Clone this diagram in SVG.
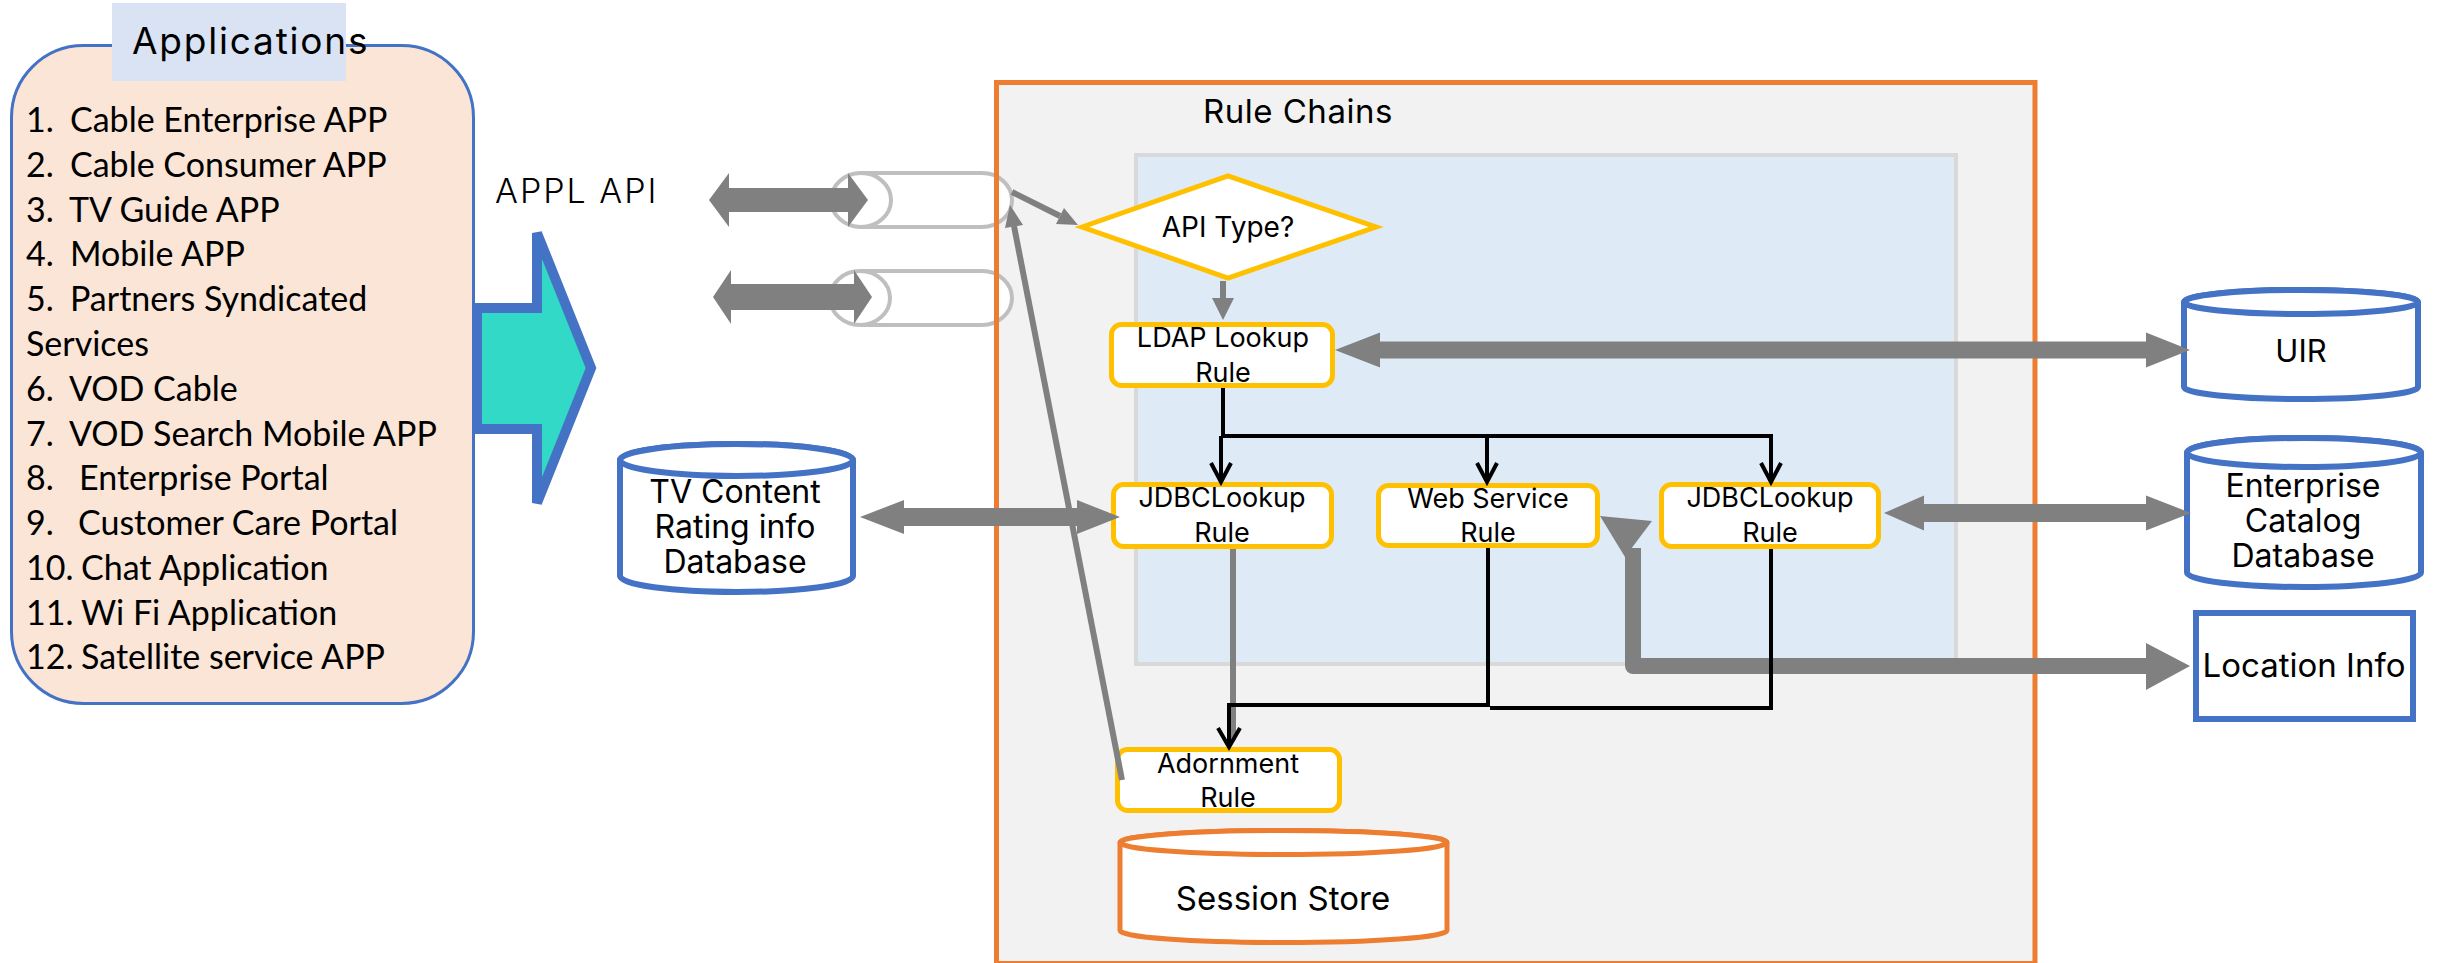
<svg xmlns="http://www.w3.org/2000/svg" width="2446" height="963" viewBox="0 0 2446 963">
  <style>
    .t { font-family: Inter, "Open Sans", "Liberation Sans", sans-serif; fill: #000; }
    .lst { font-family: Lato, "Open Sans", "Liberation Sans", sans-serif; font-size: 34px; fill: #000; }
    .rule { fill: #fff; stroke: #FFC000; stroke-width: 5; }
    .rt { font-size: 27px; text-anchor: middle; }
    .db { fill: #fff; stroke: #4472C4; stroke-width: 6; }
    .pipe { fill: #fff; stroke: #BFBFBF; stroke-width: 4; }
    .fat { fill: #808080; }
    .thin { fill: none; stroke: #808080; stroke-width: 6; }
    .blk { fill: none; stroke: #000; stroke-width: 4; }
  </style>

  <!-- Rule Chains container (fill first; border drawn above the pipes) -->
  <g id="rule-chains">
    <rect x="996.5" y="82.5" width="1038.5" height="881" fill="#F2F2F2"/>
    <text class="t" x="1203" y="123" font-size="33" letter-spacing="0.5">Rule Chains</text>
    <rect x="1136" y="155" width="820" height="509" fill="#DEEBF7" stroke="#D9D9D9" stroke-width="4"/>
  </g>

  <!-- Applications list -->
  <g id="applications">
    <rect x="11.5" y="45.5" width="462" height="658" rx="72" fill="#FBE5D6" stroke="#4472C4" stroke-width="3"/>
    <rect x="112" y="3" width="234" height="78" fill="#DAE3F3"/>
    <text class="t" x="132" y="54" font-size="37" letter-spacing="1.8">Applications</text>
    <g class="lst">
      <text y="132"><tspan x="26">1.</tspan><tspan x="70">Cable Enterprise APP</tspan></text>
      <text y="177"><tspan x="26">2.</tspan><tspan x="70">Cable Consumer APP</tspan></text>
      <text y="222"><tspan x="26">3.</tspan><tspan x="69">TV Guide APP</tspan></text>
      <text y="266"><tspan x="26">4.</tspan><tspan x="70">Mobile APP</tspan></text>
      <text y="311"><tspan x="26">5.</tspan><tspan x="70">Partners Syndicated</tspan></text>
      <text x="26" y="356">Services</text>
      <text y="401"><tspan x="26">6.</tspan><tspan x="69">VOD Cable</tspan></text>
      <text y="446"><tspan x="26">7.</tspan><tspan x="69">VOD Search Mobile APP</tspan></text>
      <text y="490"><tspan x="26">8.</tspan><tspan x="79">Enterprise Portal</tspan></text>
      <text y="535"><tspan x="26">9.</tspan><tspan x="78">Customer Care Portal</tspan></text>
      <text y="580"><tspan x="26">10.</tspan><tspan x="81">Chat Application</tspan></text>
      <text y="625"><tspan x="26">11.</tspan><tspan x="81">Wi Fi Application</tspan></text>
      <text y="669"><tspan x="26">12.</tspan><tspan x="81">Satellite service APP</tspan></text>
    </g>
  </g>

  <!-- Block arrow into the API layer -->
  <g id="app-arrow">
    <path d="M477,308 H537 V233 L591,368 L537,503 V429 H477 Z" fill="#33D9C7" stroke="#4472C4" stroke-width="10"/>
  </g>

  <text id="appl-api" class="t" x="495" y="203" font-size="34" font-weight="300" letter-spacing="2">APPL API</text>

  <!-- API pipes -->
  <g id="pipe-1">
    <path class="pipe" d="M861,173 H982 A30,27 0 0 1 982,227 H861"/>
    <ellipse class="pipe" cx="861" cy="200" rx="30" ry="27"/>
  </g>
  <g id="pipe-2">
    <path class="pipe" d="M860,271 H982 A30,27 0 0 1 982,325 H860"/>
    <ellipse class="pipe" cx="860" cy="298" rx="30" ry="27"/>
  </g>

  <!-- container border sits above the pipes -->
  <rect id="rule-chains-border" x="996.5" y="82.5" width="1038.5" height="881" fill="none" stroke="#ED7D31" stroke-width="5"/>

  <!-- Rule nodes -->
  <g id="api-type">
    <polygon points="1082,227 1228,176 1376,227 1228,278" fill="#fff" stroke="#FFC000" stroke-width="5"/>
    <text class="t" x="1228" y="237" font-size="28" text-anchor="middle">API Type?</text>
  </g>
  <g id="ldap-rule">
    <rect class="rule" x="1111.5" y="324.5" width="221" height="61" rx="10"/>
    <text class="t rt" x="1223" y="347">LDAP Lookup</text>
    <text class="t rt" x="1223" y="382">Rule</text>
  </g>
  <g id="jdbc-rule-1">
    <rect class="rule" x="1113.5" y="484.5" width="218" height="62" rx="10"/>
    <text class="t rt" x="1222" y="507">JDBCLookup</text>
    <text class="t rt" x="1222" y="542">Rule</text>
  </g>
  <g id="web-service-rule">
    <rect class="rule" x="1378.5" y="485.5" width="219" height="60" rx="10"/>
    <text class="t rt" x="1488" y="508">Web Service</text>
    <text class="t rt" x="1488" y="542">Rule</text>
  </g>
  <g id="jdbc-rule-2">
    <rect class="rule" x="1661.5" y="484.5" width="217" height="62" rx="10"/>
    <text class="t rt" x="1770" y="507">JDBCLookup</text>
    <text class="t rt" x="1770" y="542">Rule</text>
  </g>
  <g id="adornment-rule">
    <rect class="rule" x="1117.5" y="749.5" width="222" height="61" rx="10"/>
    <text class="t rt" x="1228" y="773">Adornment</text>
    <text class="t rt" x="1228" y="807">Rule</text>
  </g>

  <!-- Data stores -->
  <g id="session-store">
    <path d="M1120,842.5 A163.5,12 0 0 1 1447,842.5 V930.5 A163.5,12 0 0 1 1120,930.5 Z" fill="#fff" stroke="#ED7D31" stroke-width="5"/>
    <ellipse cx="1283.5" cy="842.5" rx="163.5" ry="12" fill="#fff" stroke="#ED7D31" stroke-width="5"/>
    <text class="t" x="1283" y="910" font-size="33" text-anchor="middle">Session Store</text>
  </g>
  <g id="tv-content-db">
    <path class="db" d="M620,460 A116.5,16 0 0 1 853,460 V576 A116.5,16 0 0 1 620,576 Z"/>
    <ellipse class="db" cx="736.5" cy="460" rx="116.5" ry="16"/>
    <g class="t" font-size="32" text-anchor="middle">
      <text x="735" y="503">TV Content</text>
      <text x="735" y="538">Rating info</text>
      <text x="735" y="573">Database</text>
    </g>
  </g>
  <g id="uir-db">
    <path class="db" d="M2184,302 A117,12 0 0 1 2418,302 V387 A117,12 0 0 1 2184,387 Z"/>
    <ellipse class="db" cx="2301" cy="302" rx="117" ry="12"/>
    <text class="t" x="2301" y="362" font-size="31" text-anchor="middle">UIR</text>
  </g>
  <g id="enterprise-catalog-db">
    <path class="db" d="M2187,452.5 A117,14.5 0 0 1 2421,452.5 V572.5 A117,14.5 0 0 1 2187,572.5 Z"/>
    <ellipse class="db" cx="2304" cy="452.5" rx="117" ry="14.5"/>
    <g class="t" font-size="32" text-anchor="middle">
      <text x="2303" y="497">Enterprise</text>
      <text x="2303" y="532">Catalog</text>
      <text x="2303" y="567">Database</text>
    </g>
  </g>
  <g id="location-info">
    <rect x="2196" y="613" width="217" height="106" fill="#fff" stroke="#4472C4" stroke-width="6"/>
    <text class="t" x="2304" y="677" font-size="33" text-anchor="middle">Location Info</text>
  </g>

  <!-- Connectors -->
  <g id="connectors">
    <!-- API double arrows -->
    <polygon class="fat" points="709,200 729,173 729,188 848,188 848,173 868,200 848,227 848,212 729,212 729,227"/>
    <polygon class="fat" points="713,297 731,270 731,284 854,284 854,270 872,297 854,324 854,310 731,310 731,324"/>
    <!-- TV content DB <-> JDBC lookup -->
    <polygon class="fat" points="860,517 904,500 904,508 1077,508 1077,500 1120,517 1077,534 1077,526 904,526 904,534"/>
    <!-- LDAP <-> UIR -->
    <polygon class="fat" points="1335,350 1380,332.5 1380,341.5 2146,341.5 2146,332.5 2190,350 2146,367.5 2146,358.5 1380,358.5 1380,367.5"/>
    <!-- JDBC lookup <-> Enterprise catalog -->
    <polygon class="fat" points="1884,513 1924,495.5 1924,504 2146,504 2146,495.5 2191,513 2146,530.5 2146,522 1924,522 1924,530.5"/>
    <!-- Web service <-> Location info -->
    <path d="M1633,548 V666 H2148" fill="none" stroke="#808080" stroke-width="16" stroke-linejoin="round"/>
    <polygon class="fat" points="2146,643 2190,666 2146,690"/>
    <polygon class="fat" points="1600,516 1652,521 1625,557"/>

    <!-- pipe -> API type -->
    <path class="thin" d="M1012,192 L1060,216"/>
    <polygon class="fat" points="1078,225 1056,224 1064,208"/>
    <!-- adornment -> pipe -->
    <path class="thin" d="M1122,780 L1014,226"/>
    <polygon class="fat" points="1010,205 1023,225 1005,228"/>
    <!-- API type -> LDAP -->
    <path class="thin" d="M1223,281 V300"/>
    <polygon class="fat" points="1212,298 1234,298 1223,320"/>
    <!-- JDBC lookup -> adornment (grey) -->
    <path class="thin" d="M1233,549 V740"/>

    <!-- LDAP fan-out -->
    <path class="blk" d="M1223,388 V436" stroke-width="5"/>
    <path class="blk" d="M1221,436 H1773"/>
    <path class="blk" d="M1221,436 V481 M1211,463 L1221,482 L1231,463"/>
    <path class="blk" d="M1487,436 V481 M1477,463 L1487,482 L1497,463"/>
    <path class="blk" d="M1771,436 V481 M1761,463 L1771,482 L1781,463"/>
    <!-- results to adornment -->
    <path class="blk" d="M1488,548 V705 H1229"/>
    <path class="blk" d="M1771,549 V708 H1490"/>
    <path class="blk" d="M1229,703 V746 M1218,728 L1229,747 L1240,728" stroke-width="5"/>
  </g>
</svg>
